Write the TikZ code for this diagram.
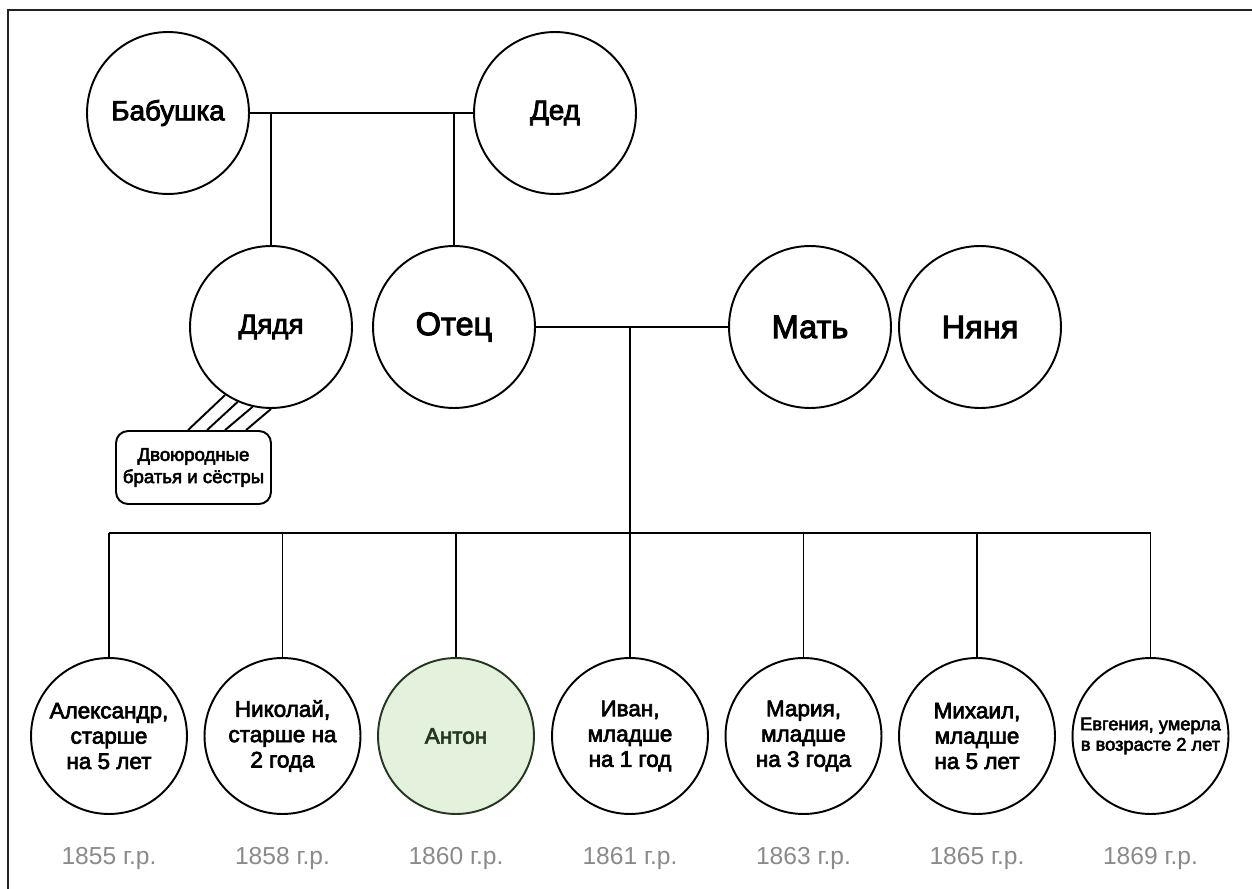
\documentclass[tikz,border=0pt]{standalone}
\usepackage{fontspec}
\setmainfont{Liberation Sans}
\newfontfamily\medfont[FakeBold=3]{Liberation Sans}
\usetikzlibrary{calc}

\definecolor{antonfill}{HTML}{E4F2DD}
\definecolor{antonline}{HTML}{22381F}
\definecolor{yeargray}{HTML}{8A8A8A}
\definecolor{framegray}{HTML}{222222}

\begin{document}
\begin{tikzpicture}[x=0.02cm, y=-0.02cm,
    person/.style={circle, draw, line width=1.1pt, minimum size=3.24cm, inner sep=0pt, align=center},
    big/.style={font=\medfont\fontsize{15.8}{18}\selectfont},
    bigger/.style={font=\medfont\fontsize{18.5}{22}\selectfont},
    child/.style={circle, draw, line width=1.1pt, minimum size=3.12cm, inner sep=0pt, align=center,
                  font=\medfont\fontsize{12.8}{14.4}\selectfont},
    year/.style={text=yeargray, font=\fontsize{14}{16}\selectfont},
    link/.style={line width=1.1pt}]
    \useasboundingbox (0,0) rectangle (1252,889);

    % frame
    \draw[line width=1.7pt, color=framegray] (8,889) -- (8,10) -- (1252,10);

    % grandparents
    \node[person, big] (babushka) at (168,113) {Бабушка};
    \node[person, big] (ded) at (555,113) {Дед};
    \draw[link] (babushka) -- (ded);

    % uncle and father
    \node[person, big] (dyadya) at (271,327) {Дядя};
    \node[person, bigger] (otec) at (454,327) {Отец};
    \draw[link] (dyadya.north |- babushka) -- (dyadya.north);
    \draw[link] (otec.north |- babushka) -- (otec.north);

    % cousins
    \node[draw, line width=1.1pt, rounded corners=0.24cm, minimum width=3.1cm, minimum height=1.46cm,
          align=center, font=\medfont\fontsize{10.6}{12.6}\selectfont] (cousins) at (193.5,467.5)
          {Двоюродные\\братья и сёстры};
    \foreach \a/\dx in {236/73, 246/92, 257/110, 270/131}
      \draw[link] (dyadya.\a) -- ($(cousins.north west)+(\dx,0)$);

    % mother and nanny
    \node[person, bigger] (mat) at (810,327) {Мать};
    \node[person, bigger] (nyanya) at (980,327) {Няня};
    \draw[link] (otec) -- (mat);

    % children
    \node[child] (aleksandr) at (109,736) {Александр,\\старше\\на 5 лет};
    \node[child] (nikolay) at (282.5,736) {Николай,\\старше на\\2 года};
    \node[child, fill=antonfill, draw=antonline, text=antonline] (anton) at (456,736) {Антон};
    \node[child] (ivan) at (630,736) {Иван,\\младше\\на 1 год};
    \node[child] (mariya) at (803.5,736) {Мария,\\младше\\на 3 года};
    \node[child] (mikhail) at (977,736) {Михаил,\\младше\\на 5 лет};
    \node[child, font=\medfont\fontsize{10.4}{11.6}\selectfont] (evgeniya) at (1150.5,736)
          {Евгения, умерла\\в возрасте 2 лет};

    \coordinate (fork) at (630,533);
    \draw[link] (fork |- otec) -- (fork);
    \draw[link] (aleksandr.north |- fork) -- (evgeniya.north |- fork);
    \foreach \c in {aleksandr, nikolay, anton, ivan, mariya, mikhail, evgeniya}
      \draw[link] (\c.north |- fork) -- (\c.north);

    % years
    \node[year] (y1) at (109,858) {1855 г.р.};
    \node[year] (y2) at (282.5,858) {1858 г.р.};
    \node[year] (y3) at (456,858) {1860 г.р.};
    \node[year] (y4) at (630,858) {1861 г.р.};
    \node[year] (y5) at (803.5,858) {1863 г.р.};
    \node[year] (y6) at (977,858) {1865 г.р.};
    \node[year] (y7) at (1150.5,858) {1869 г.р.};
\end{tikzpicture}
\end{document}
